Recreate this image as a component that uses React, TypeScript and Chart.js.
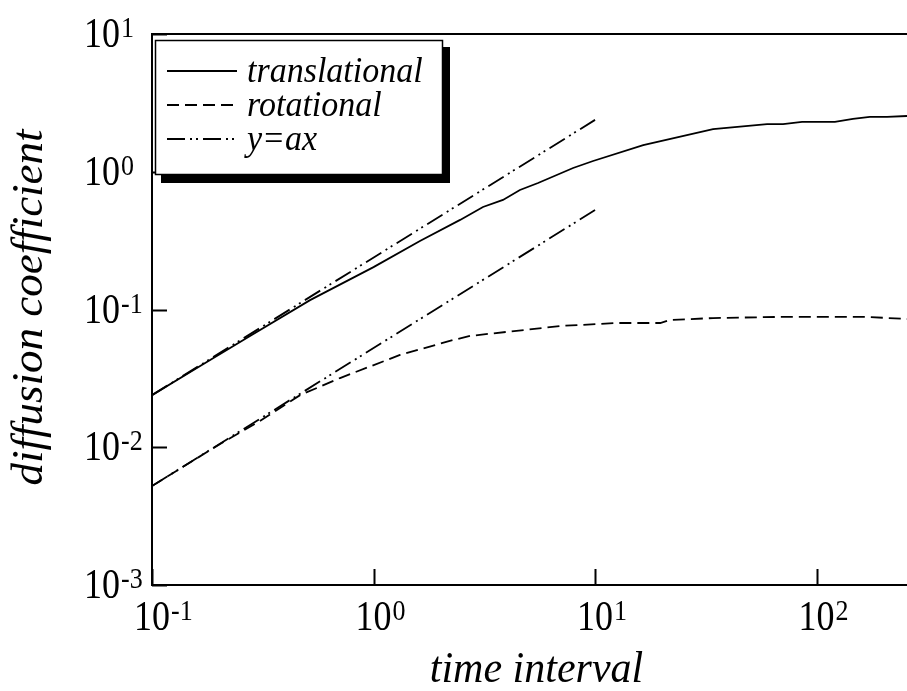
import React, { useEffect, useRef } from 'react';
import { Chart, registerables } from 'chart.js';

Chart.register(...registerables);

// ---- data ----
const transTime = [0.1, 0.165, 0.277, 0.517, 1.0, 1.62, 2.46, 3.12, 3.84, 4.58, 5.53, 7.96, 9.8, 16.5, 34.1, 59.8, 70.6, 86.0, 121, 146, 174, 208, 256];
const transCoef = [0.0239, 0.0389, 0.0643, 0.117, 0.203, 0.314, 0.447, 0.555, 0.624, 0.737, 0.829, 1.065, 1.197, 1.56, 2.04, 2.22, 2.22, 2.30, 2.30, 2.42, 2.50, 2.50, 2.54];

const rotTime = [0.1, 0.203, 0.307, 0.466, 0.706, 1.317, 2.29, 2.73, 5.82, 6.95, 12.6, 19.7, 21.8, 34.1, 66.3, 169, 256];
const rotCoef = [0.00523, 0.01057, 0.0155, 0.0239, 0.0318, 0.0468, 0.0601, 0.0643, 0.0735, 0.0759, 0.0798, 0.0798, 0.0839, 0.0867, 0.0883, 0.0883, 0.0853];

const fitUpperTime = [0.1, 10];
const fitUpperCoef = [0.0239, 2.38];
const fitLowerTime = [0.1, 10];
const fitLowerCoef = [0.00523, 0.527];

const xTickValues = [0.1, 1, 10, 100];
const xTickExponents = ['-1', '0', '1', '2'];
const yTickValues = [0.001, 0.01, 0.1, 1, 10];
const yTickExponents = ['-3', '-2', '-1', '0', '1'];

const legendLabels = ['translational', 'rotational', 'y=ax'];
const xTitle = 'time interval';
const yTitle = 'diffusion coefficient';

const X_MIN = 0.1;
const X_MAX = 256;
const Y_MIN = 0.001;
const Y_MAX = 10;

// ---- styles ----
const SERIF = '"Liberation Serif", "Times New Roman", serif';
const SOLID: number[] = [];
const DASHED = [12, 6];
const DASHDOT = [18, 5, 2, 4, 2, 5];
const legendDashes = [SOLID, DASHED, DASHDOT];

function pts(xs: number[], ys: number[]) {
  return xs.map((x, i) => ({ x, y: ys[i] }));
}

function drawText(ctx: CanvasRenderingContext2D, text: string, x: number, y: number, font: string, align: CanvasTextAlign, sy = 1) {
  ctx.save();
  ctx.translate(x, y);
  ctx.scale(1, sy);
  ctx.font = font;
  ctx.textAlign = align;
  ctx.textBaseline = 'alphabetic';
  ctx.fillText(text, 0, 0);
  ctx.restore();
}

const decor = {
  id: 'decor',
  afterDraw(chart: any) {
    const { ctx, chartArea: a, scales } = chart;
    const xs = scales.x;
    const ys = scales.y;
    ctx.save();
    ctx.strokeStyle = '#000';
    ctx.fillStyle = '#000';
    ctx.lineWidth = 2;
    ctx.setLineDash([]);

    // frame (top, left, bottom)
    ctx.beginPath();
    ctx.moveTo(a.right + 5, a.top);
    ctx.lineTo(a.left, a.top);
    ctx.lineTo(a.left, a.bottom);
    ctx.lineTo(a.right + 5, a.bottom);
    ctx.stroke();

    // inward ticks
    ctx.beginPath();
    xTickValues.forEach((v) => {
      const px = Math.round(xs.getPixelForValue(v)) + 0.5;
      ctx.moveTo(px, a.bottom);
      ctx.lineTo(px, a.bottom - 16);
    });
    yTickValues.forEach((v) => {
      const py = Math.round(ys.getPixelForValue(v)) + 0.5;
      ctx.moveTo(a.left, py);
      ctx.lineTo(a.left + 15, py);
    });
    ctx.stroke();

    const baseFont = `36px ${SERIF}`;
    const supFont = `26px ${SERIF}`;
    const SY = 1.16;

    // x tick labels
    xTickValues.forEach((v, i) => {
      const px = xs.getPixelForValue(v);
      ctx.font = baseFont;
      const w = ctx.measureText('10').width;
      drawText(ctx, '10', px, a.bottom + 45, baseFont, 'center', SY);
      drawText(ctx, xTickExponents[i], px + w / 2 + 1, a.bottom + 35, supFont, 'left', SY);
    });

    // y tick labels
    yTickValues.forEach((v, i) => {
      const py = ys.getPixelForValue(v);
      drawText(ctx, '10', a.left - 32, py + 13, baseFont, 'right', SY);
      drawText(ctx, yTickExponents[i], a.left - 31, py + 3, supFont, 'left', SY);
    });

    // axis titles
    drawText(ctx, xTitle, (a.left + a.right) / 2 + 7, 682, `italic 42px ${SERIF}`, 'center', 1.05);
    ctx.save();
    ctx.translate(42, (a.top + a.bottom) / 2 - 2);
    ctx.rotate(-Math.PI / 2);
    ctx.font = `italic 45px ${SERIF}`;
    ctx.textAlign = 'center';
    ctx.textBaseline = 'alphabetic';
    ctx.fillText(yTitle, 0, 0);
    ctx.restore();

    // legend box with shadow
    const bx = a.left + 3;
    const by = a.top + 6;
    const bw = 288;
    const bh = 135;
    ctx.fillStyle = '#000';
    ctx.fillRect(bx + 6, by + 7, bw + 1, bh + 1);
    ctx.fillStyle = '#fff';
    ctx.fillRect(bx, by, bw, bh);
    ctx.lineWidth = 1.5;
    ctx.strokeStyle = '#000';
    ctx.strokeRect(bx + 0.5, by + 0.5, bw - 1, bh - 1);

    const rowYs = [by + 31, by + 65, by + 99];
    ctx.fillStyle = '#000';
    legendLabels.forEach((lab, i) => {
      const ry = rowYs[i];
      ctx.save();
      ctx.lineWidth = 1.8;
      ctx.setLineDash(legendDashes[i]);
      ctx.beginPath();
      ctx.moveTo(bx + 12, ry);
      ctx.lineTo(bx + 82, ry);
      ctx.stroke();
      ctx.restore();
      drawText(ctx, lab, bx + 92, ry + 11, `italic 34px ${SERIF}`, 'left', 1.05);
    });

    ctx.restore();
  },
};

export default function App() {
  const canvasRef = useRef<HTMLCanvasElement | null>(null);

  useEffect(() => {
    const canvas = canvasRef.current;
    if (!canvas) return;
    const common = {
      borderColor: '#000',
      backgroundColor: '#000',
      borderWidth: 1.8,
      pointRadius: 0,
      tension: 0,
      fill: false,
    };
    const chart = new Chart(canvas, {
      type: 'line',
      data: {
        datasets: [
          { ...common, label: legendLabels[0], data: pts(transTime, transCoef), borderDash: SOLID },
          { ...common, label: legendLabels[1], data: pts(rotTime, rotCoef), borderDash: DASHED },
          { ...common, label: legendLabels[2], data: pts(fitUpperTime, fitUpperCoef), borderDash: DASHDOT },
          { ...common, label: legendLabels[2], data: pts(fitLowerTime, fitLowerCoef), borderDash: DASHDOT },
        ],
      },
      options: {
        animation: false,
        responsive: false,
        devicePixelRatio: 1,
        layout: { padding: { left: 152, top: 34, right: 0, bottom: 106 } },
        plugins: {
          legend: { display: false },
          tooltip: { enabled: false },
          title: { display: false },
        },
        scales: {
          x: { type: 'logarithmic', min: X_MIN, max: X_MAX, display: false },
          y: { type: 'logarithmic', min: Y_MIN, max: Y_MAX, display: false },
        },
      },
      plugins: [decor],
    } as any);
    return () => chart.destroy();
  }, []);

  return (
    <div style={{ position: 'absolute', left: 0, top: 0, width: 907, height: 691, background: '#fff', overflow: 'hidden' }}>
      <canvas ref={canvasRef} width={907} height={691} style={{ display: 'block' }} />
    </div>
  );
}
